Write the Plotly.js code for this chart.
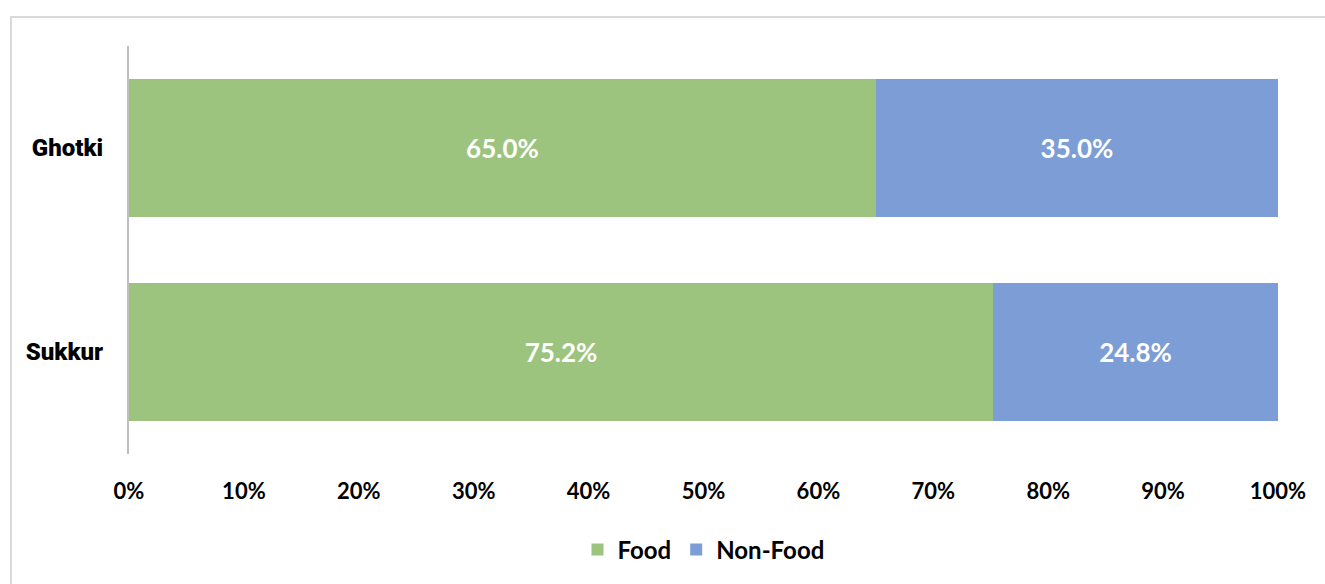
<!DOCTYPE html>
<html><head><meta charset="utf-8">
<script src="https://cdn.plot.ly/plotly-3.0.1.min.js"></script>
<style>html,body{margin:0;padding:0;background:#fff;overflow:hidden}
#frame{position:absolute;left:10px;top:16px;width:1400px;height:700px;border:2px solid #d9d9d9;pointer-events:none;box-sizing:border-box}
#chart{position:absolute;left:0;top:0;width:1325px;height:584px}</style>
</head><body>
<div id="chart"></div><div id="frame"></div>
<script>
var categories = ["Sukkur", "Ghotki"];
var foodValues = [0.752, 0.650];
var nonFoodValues = [0.248, 0.350];
var seriesNames = ["Food", "Non-Food"];
var tickVals = [0,0.1,0.2,0.3,0.4,0.5,0.6,0.7,0.8,0.9,1.0];
var tickText = ["0%","10%","20%","30%","40%","50%","60%","70%","80%","90%","100%"];

var fontFam = "Lato, 'Open Sans', sans-serif";
function lbl(v){ return (v*100).toFixed(1) + "%"; }
var traces = [
  {type:"bar", orientation:"h", name:seriesNames[0], y:categories, x:foodValues,
   marker:{color:"#9DC47F"}, text:foodValues.map(lbl), textposition:"inside", insidetextanchor:"middle",
   textfont:{color:"#ffffff", size:26, family:fontFam, weight:700}, hoverinfo:"none"},
  {type:"bar", orientation:"h", name:seriesNames[1], y:categories, x:nonFoodValues,
   marker:{color:"#7C9DD5"}, text:nonFoodValues.map(lbl), textposition:"inside", insidetextanchor:"middle",
   textfont:{color:"#ffffff", size:26, family:fontFam, weight:700}, hoverinfo:"none"}
];
var layout = {
  width:1325, height:584, barmode:"stack", bargap:0.325,
  margin:{l:129, r:47, t:46, b:124},
  paper_bgcolor:"rgba(0,0,0,0)", plot_bgcolor:"rgba(0,0,0,0)",
  showlegend:true,
  legend:{orientation:"h", x:0.5, xanchor:"center", y:-0.235, yanchor:"middle",
          font:{size:24, family:fontFam, color:"#000", weight:700}, itemwidth:30, traceorder:"normal"},
  xaxis:{range:[0,1], tickvals:tickVals, ticktext:tickText, showgrid:false, zeroline:false,
         showline:false, ticks:"", ticklabelstandoff:22,
         tickfont:{size:22, family:fontFam, color:"#000", weight:700}, fixedrange:true},
  yaxis:{showgrid:false, zeroline:false, showline:true, linecolor:"#bfbfbf", linewidth:2,
         ticks:"", ticklabelstandoff:19, range:[-0.5,1.5],
         tickfont:{size:24, family:"Roboto, Lato, sans-serif", color:"#000", weight:900}, fixedrange:true},
  font:{family:fontFam}
};
Plotly.newPlot("chart", traces, layout, {displayModeBar:false, staticPlot:true});
</script>
</body></html>
